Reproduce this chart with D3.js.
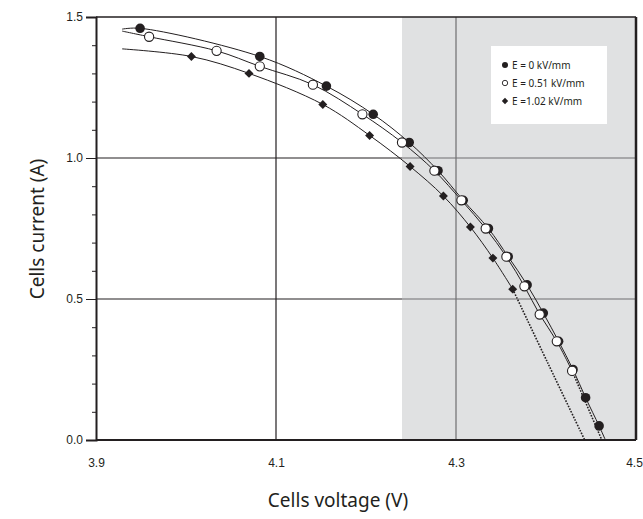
<!DOCTYPE html>
<html>
<head>
<meta charset="utf-8">
<script src="https://cdn.jsdelivr.net/npm/d3@7"></script>
<style>
  body { margin: 0; background: #fff; }
  svg { display: block; }
  .tick text { font-family: "Liberation Sans", Arial, sans-serif; font-size: 12px; fill: #231f20; }
</style>
</head>
<body>
<svg width="643" height="519"></svg>
<script>
// E = 0 kV/mm (filled circles)
var voltsE0 = [3.949, 4.082, 4.156, 4.208, 4.248, 4.280, 4.308, 4.336, 4.358, 4.379, 4.397, 4.414, 4.430, 4.444, 4.459];
var currE0 = [1.46, 1.36, 1.255, 1.155, 1.055, 0.955, 0.85, 0.75, 0.65, 0.55, 0.45, 0.35, 0.25, 0.15, 0.05];
// E = 0.51 kV/mm (open circles)
var voltsE051 = [3.959, 4.034, 4.082, 4.141, 4.196, 4.240, 4.276, 4.306, 4.333, 4.356, 4.376, 4.393, 4.412, 4.429];
var currE051 = [1.43, 1.38, 1.325, 1.26, 1.155, 1.055, 0.955, 0.85, 0.75, 0.65, 0.545, 0.445, 0.35, 0.245];
// E = 1.02 kV/mm (diamonds)
var voltsE102 = [4.006, 4.070, 4.152, 4.204, 4.249, 4.286, 4.316, 4.341, 4.363];
var currE102 = [1.36, 1.30, 1.19, 1.08, 0.97, 0.865, 0.755, 0.645, 0.535];

// where the fitted lines start, and where the extrapolated parts end
var fitStartV = 3.929;
var fitStartI = [1.457, 1.45, 1.387];
var fitEndV = [4.466, 4.462, 4.443];
var extrapMidE102 = [4.402, 0.273];

var legendLabels = ["E = 0 kV/mm", "E = 0.51 kV/mm", "E =1.02 kV/mm"];
var xTicks = [3.9, 4.1, 4.3, 4.5];
var yTicks = [0, 0.5, 1.0, 1.5];
var yMinor = [0.1, 0.2, 0.3, 0.4, 0.6, 0.7, 0.8, 0.9, 1.1, 1.2, 1.3, 1.4];
var xGrid = [4.1, 4.3];
var yGrid = [0.5, 1.0];
var shadedFrom = 4.24;

var ink = "#231f20";

var svg = d3.select("svg");

var x = d3.scaleLinear().domain([3.9, 4.5]).range([96, 636]);
var y = d3.scaleLinear().domain([0, 1.5]).range([440, 17]);

function zip(vs, is) {
    return vs.map(function(v, k) { return [v, is[k]]; });
}
var ptsE0 = zip(voltsE0, currE0);
var ptsE051 = zip(voltsE051, currE051);
var ptsE102 = zip(voltsE102, currE102);

// grid
svg.append("g").selectAll("line")
    .data(xGrid)
    .enter().append("line")
    .attr("x1", function(d) { return x(d); })
    .attr("x2", function(d) { return x(d); })
    .attr("y1", y(1.5))
    .attr("y2", y(0))
    .attr("stroke", ink)
    .attr("stroke-width", 1.2);

svg.append("g").selectAll("line")
    .data(yGrid)
    .enter().append("line")
    .attr("x1", x(3.9))
    .attr("x2", x(4.5))
    .attr("y1", function(d) { return y(d); })
    .attr("y2", function(d) { return y(d); })
    .attr("stroke", ink)
    .attr("stroke-width", 1.2);

// shaded zone, translucent so the grid shows through lighter
svg.append("rect")
    .attr("x", x(shadedFrom))
    .attr("y", y(1.5))
    .attr("width", x(4.5) - x(shadedFrom))
    .attr("height", y(0) - y(1.5))
    .attr("fill", "rgb(192,193,195)")
    .attr("fill-opacity", 0.49);

// axes
var yAxis = svg.append("g")
    .attr("transform", "translate(" + x(3.9) + ",0)")
    .call(d3.axisLeft(y).tickValues(yTicks).tickFormat(d3.format(".1f")).tickSize(10).tickPadding(3));
var yAxisMinor = svg.append("g")
    .attr("transform", "translate(" + x(3.9) + ",0)")
    .call(d3.axisLeft(y).tickValues(yMinor).tickFormat("").tickSize(4));
yAxisMinor.select(".domain").remove();
yAxis.select(".domain").attr("stroke-width", 2);
svg.selectAll(".tick line").attr("stroke", ink);
yAxis.selectAll(".domain").attr("stroke", ink);

var xAxis = svg.append("g")
    .attr("transform", "translate(0," + y(0) + ")")
    .call(d3.axisBottom(x).tickValues(xTicks).tickFormat(d3.format(".1f")).tickSize(0).tickPadding(18));
xAxis.select(".domain").remove();
// last label sits on the page edge; pull it in a little so it stays whole
xAxis.selectAll(".tick text")
    .attr("dx", function(d) { return d === 4.5 ? -2 : 0; });

svg.append("line")
    .attr("x1", x(3.9)).attr("x2", x(4.5))
    .attr("y1", y(0)).attr("y2", y(0))
    .attr("stroke", ink).attr("stroke-width", 2.2);
svg.append("line")
    .attr("x1", x(3.9)).attr("x2", x(4.5))
    .attr("y1", y(1.5)).attr("y2", y(1.5))
    .attr("stroke", ink).attr("stroke-width", 1.5);
svg.append("line")
    .attr("x1", x(4.5)).attr("x2", x(4.5))
    .attr("y1", y(1.5)).attr("y2", y(0))
    .attr("stroke", ink).attr("stroke-width", 2.5);

// fitted lines
var line = d3.line()
    .x(function(d) { return x(d[0]); })
    .y(function(d) { return y(d[1]); })
    .curve(d3.curveCatmullRom.alpha(0.5));

var fits = [
    {pts: [[fitStartV, fitStartI[0]]].concat(ptsE0, [[fitEndV[0], 0]]), dash: null},
    {pts: [[fitStartV, fitStartI[1]]].concat(ptsE051), dash: null},
    {pts: [ptsE051[ptsE051.length - 1], [fitEndV[1], 0]], dash: "1.6,1.4"},
    {pts: [[fitStartV, fitStartI[2]]].concat(ptsE102), dash: null},
    {pts: [ptsE102[ptsE102.length - 1], extrapMidE102, [fitEndV[2], 0]], dash: "1.6,1.4"}
];

svg.append("g").selectAll("path")
    .data(fits)
    .enter().append("path")
    .attr("d", function(d) { return line(d.pts); })
    .attr("fill", "none")
    .attr("stroke", ink)
    .attr("stroke-width", function(d) { return d.dash ? 1.6 : 1; })
    .attr("stroke-dasharray", function(d) { return d.dash; });

// markers
var diamond = d3.symbol().type(d3.symbolSquare).size(40);

svg.append("g").selectAll("circle")
    .data(ptsE0)
    .enter().append("circle")
    .attr("cx", function(d) { return x(d[0]); })
    .attr("cy", function(d) { return y(d[1]); })
    .attr("r", 4.8)
    .attr("fill", ink);

svg.append("g").selectAll("circle")
    .data(ptsE051)
    .enter().append("circle")
    .attr("cx", function(d) { return x(d[0]); })
    .attr("cy", function(d) { return y(d[1]); })
    .attr("r", 4.6)
    .attr("fill", "#fff")
    .attr("stroke", ink)
    .attr("stroke-width", 1.1);

svg.append("g").selectAll("path")
    .data(ptsE102)
    .enter().append("path")
    .attr("d", diamond)
    .attr("transform", function(d) { return "translate(" + x(d[0]) + "," + y(d[1]) + ") rotate(45)"; })
    .attr("fill", ink);

// legend
var legend = svg.append("g").attr("transform", "translate(491,46)");
legend.append("rect")
    .attr("width", 116)
    .attr("height", 78)
    .attr("fill", "#fff");

var rows = legend.selectAll("g")
    .data(legendLabels)
    .enter().append("g")
    .attr("transform", function(d, i) { return "translate(14," + (19 + i * 18) + ")"; });

rows.each(function(d, i) {
    var g = d3.select(this);
    if (i === 0) {
        g.append("circle").attr("r", 3).attr("fill", ink);
    } else if (i === 1) {
        g.append("circle").attr("r", 2.7).attr("fill", "#fff").attr("stroke", ink).attr("stroke-width", 0.9);
    } else {
        g.append("path")
            .attr("d", d3.symbol().type(d3.symbolSquare).size(20))
            .attr("transform", "rotate(45)")
            .attr("fill", ink);
    }
});

rows.append("text")
    .attr("x", 7)
    .attr("dy", "0.35em")
    .style("font-family", "'Noto Sans', sans-serif")
    .style("font-size", "10px")
    .attr("fill", ink)
    .text(function(d) { return d; });

// axis titles
svg.append("text")
    .attr("transform", "translate(44,229) rotate(-90)")
    .attr("text-anchor", "middle")
    .style("font-family", "'Noto Sans', sans-serif")
    .style("font-size", "19px")
    .attr("fill", ink)
    .text("Cells current (A)");

svg.append("text")
    .attr("x", 338)
    .attr("y", 507)
    .attr("text-anchor", "middle")
    .style("font-family", "'Noto Sans', sans-serif")
    .style("font-size", "19px")
    .attr("fill", ink)
    .text("Cells voltage (V)");
</script>
</body>
</html>
